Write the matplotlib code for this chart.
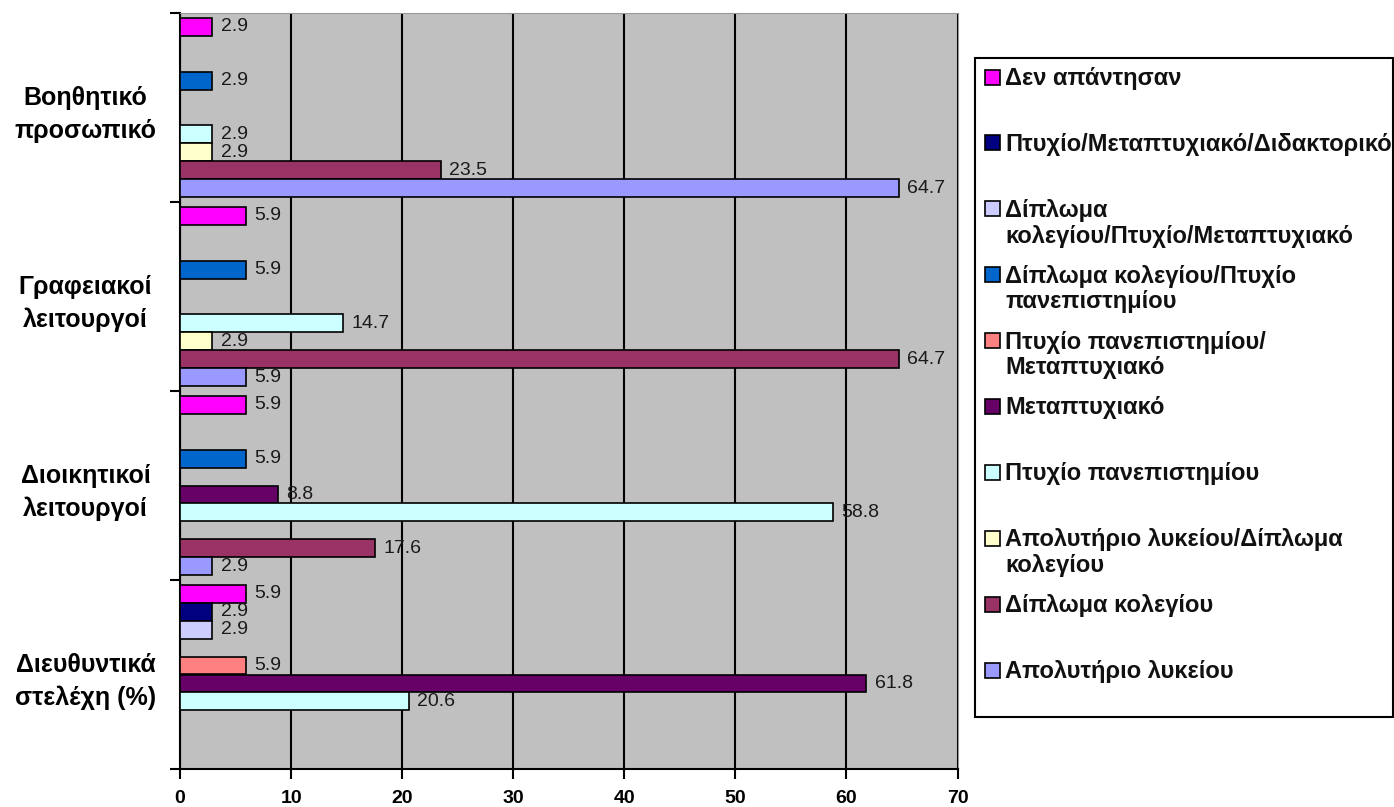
import numpy as np
import matplotlib
matplotlib.use('Agg')
import matplotlib.pyplot as plt
from matplotlib.patches import Rectangle

plt.rcParams['font.family'] = ['Liberation Sans', 'DejaVu Sans']

# categories, top to bottom
categories = ['Βοηθητικό\nπροσωπικό', 'Γραφειακοί\nλειτουργοί',
              'Διοικητικοί\nλειτουργοί', 'Διευθυντικά\nστελέχη (%)']

# series, in the order they appear inside each group (top to bottom)
series_names = ['Δεν απάντησαν',
                'Πτυχίο/Μεταπτυχιακό/Διδακτορικό',
                'Δίπλωμα\nκολεγίου/Πτυχίο/Μεταπτυχιακό',
                'Δίπλωμα κολεγίου/Πτυχίο\nπανεπιστημίου',
                'Πτυχίο πανεπιστημίου/\nΜεταπτυχιακό',
                'Μεταπτυχιακό',
                'Πτυχίο πανεπιστημίου',
                'Απολυτήριο λυκείου/Δίπλωμα\nκολεγίου',
                'Δίπλωμα κολεγίου',
                'Απολυτήριο λυκείου']
series_colors = ['#FF00FF', '#000080', '#CCCCFF', '#0066CC', '#FF8080',
                 '#660066', '#CCFFFF', '#FFFFCC', '#993366', '#9999FF']

den_apantisan = [2.9, 5.9, 5.9, 5.9]
ptyxio_metapt_didakt = [0, 0, 0, 2.9]
diplkol_ptyxio_metapt = [0, 0, 0, 2.9]
diplkol_ptyxio_pan = [2.9, 5.9, 5.9, 0]
ptyxio_pan_metapt = [0, 0, 0, 5.9]
metaptyxiako = [0, 0, 8.8, 61.8]
ptyxio_pan = [2.9, 14.7, 58.8, 20.6]
apol_diplkol = [2.9, 2.9, 0, 0]
diploma_kol = [23.5, 64.7, 17.6, 0]
apol_lykeiou = [64.7, 5.9, 2.9, 0]

values = [den_apantisan, ptyxio_metapt_didakt, diplkol_ptyxio_metapt,
          diplkol_ptyxio_pan, ptyxio_pan_metapt, metaptyxiako, ptyxio_pan,
          apol_diplkol, diploma_kol, apol_lykeiou]

W, H = 1394, 807
fig = plt.figure(figsize=(W / 100, H / 100), dpi=100)
ax = fig.add_axes([180 / W, 1 - 769 / H, (957.5 - 180) / W, (769 - 13) / H])
ax.set_facecolor('#C0C0C0')

n = len(series_names)
bh = 0.095
gap = (1 - n * bh) / 2
for j, (vals, col) in enumerate(zip(values, series_colors)):
    for i, v in enumerate(vals):
        if v == 0:
            continue
        y = i + gap + bh * (j + 0.5)
        ax.barh(y, v, height=bh, color=col, edgecolor='black', linewidth=1.2, zorder=3)
        ax.annotate(f'{v:.1f}', (v, y), xytext=(6, 0), textcoords='offset points',
                    va='center', ha='left', fontsize=14, color='#1a1a1a', zorder=4)

ax.set_xlim(0, 70)
ax.set_ylim(4, 0)
ax.set_xticks(np.arange(0, 71, 10))
ax.set_xticklabels([str(t) for t in range(0, 71, 10)], fontsize=14, fontweight='bold')
ax.xaxis.grid(True, color='black', linewidth=1.5, zorder=1)
ax.set_axisbelow(True)

ax.set_yticks(np.arange(0, 5))
ax.set_yticklabels([])
ax.set_yticks(np.arange(4) + 0.5, minor=True)
ax.set_yticklabels(categories, minor=True, fontsize=18, fontweight='bold',
                   multialignment='center', ha='center', linespacing=1.45)
ax.tick_params(axis='y', which='minor', length=0, pad=68)
ax.tick_params(axis='y', which='major', length=7, width=1.5, direction='out')
ax.tick_params(axis='x', length=7, width=1.5, direction='out', pad=8)

for s in ['left', 'bottom']:
    ax.spines[s].set_linewidth(1.5)
ax.spines['top'].set_color('#999999')
ax.spines['right'].set_color('#999999')

# legend box drawn in figure pixels
def fx(px):
    return px / W

def fy(py):
    return 1 - py / H

fig.patches.append(Rectangle((fx(975), fy(717)), fx(1393) - fx(975), fy(58) - fy(717),
                             transform=fig.transFigure, facecolor='white',
                             edgecolor='black', linewidth=1.5))
for k, (name, col) in enumerate(zip(series_names, series_colors)):
    yc = 77 + 65.9 * k
    fig.patches.append(Rectangle((fx(985), fy(yc + 7.5)), fx(15), 15 / H,
                                 transform=fig.transFigure, facecolor=col,
                                 edgecolor='black', linewidth=1.2))
    fig.text(fx(1005), fy(yc - 10), name, fontsize=17, fontweight='bold',
             va='top', ha='left', linespacing=1.15, color='#111111')

fig.savefig('out.png', dpi=100)
